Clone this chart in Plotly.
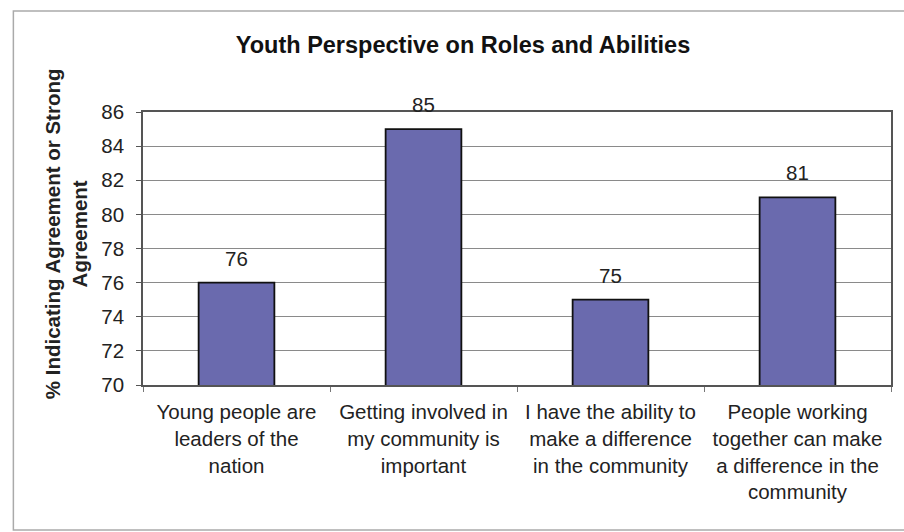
import plotly.graph_objects as go

categories = [
    "Young people are<br>leaders of the<br>nation",
    "Getting involved in<br>my community is<br>important",
    "I have the ability to<br>make a difference<br>in the community",
    "People working<br>together can make<br>a difference in the<br>community",
]
values = [76, 85, 75, 81]
y_ticks = [70, 72, 74, 76, 78, 80, 82, 84, 86]

BAR = "#6a6aae"
FONT = "Arial, Liberation Sans, sans-serif"

fig = go.Figure()
fig.add_trace(go.Bar(
    x=categories, y=values,
    marker=dict(color=BAR, line=dict(color="#111111", width=1.8)),
    width=0.405,
    hoverinfo="skip",
))

for c, v in zip(categories, values):
    fig.add_annotation(x=c, y=v, text=str(v), showarrow=False,
                       yanchor="bottom", yshift=11,
                       font=dict(family=FONT, size=20.5, color="#222222"))

# outer chart frame
fig.add_shape(type="rect", xref="paper", yref="paper",
              x0=-0.1733, x1=1.03, y0=-0.531, y1=1.37,
              line=dict(color="#aaaaaa", width=1.5), layer="below")

# y-axis title
fig.add_annotation(xref="paper", yref="paper",
                   x=(66 - 143) / 750, y=(385 - 234) / 273,
                   text="<b>% Indicating Agreement or Strong<br>Agreement</b>",
                   textangle=-90, showarrow=False,
                   xanchor="center", yanchor="middle",
                   font=dict(family=FONT, size=20.5, color="#222222"))

fig.update_layout(
    width=904, height=532,
    margin=dict(l=143, r=11, t=112, b=147),
    paper_bgcolor="white", plot_bgcolor="white",
    showlegend=False,
    font=dict(family=FONT, color="#222222"),
    title=dict(text="<b>Youth Perspective on Roles and Abilities</b>",
               x=463/904, xanchor="center", y=1-45/532, yanchor="middle",
               font=dict(family=FONT, size=23.5, color="#111111")),
    xaxis=dict(
        showline=True, linecolor="#555555", linewidth=1.5, mirror=True,
        ticks="outside", ticklen=5, tickcolor="#777777", tickson="boundaries",
        tickfont=dict(family=FONT, size=20.5, color="#222222"),
        ticklabelstandoff=8,
        showgrid=False,
    ),
    yaxis=dict(
        range=[70, 86], tickvals=y_ticks,
        showline=True, linecolor="#555555", linewidth=1.5, mirror=True,
        ticks="outside", ticklen=5, tickcolor="#555555",
        tickfont=dict(family=FONT, size=20.5, color="#222222"),
        ticklabelstandoff=8,
        showgrid=True, gridcolor="#8a8a8a", gridwidth=1,
        zeroline=False,
    ),
)

fig.write_html("out.html")
